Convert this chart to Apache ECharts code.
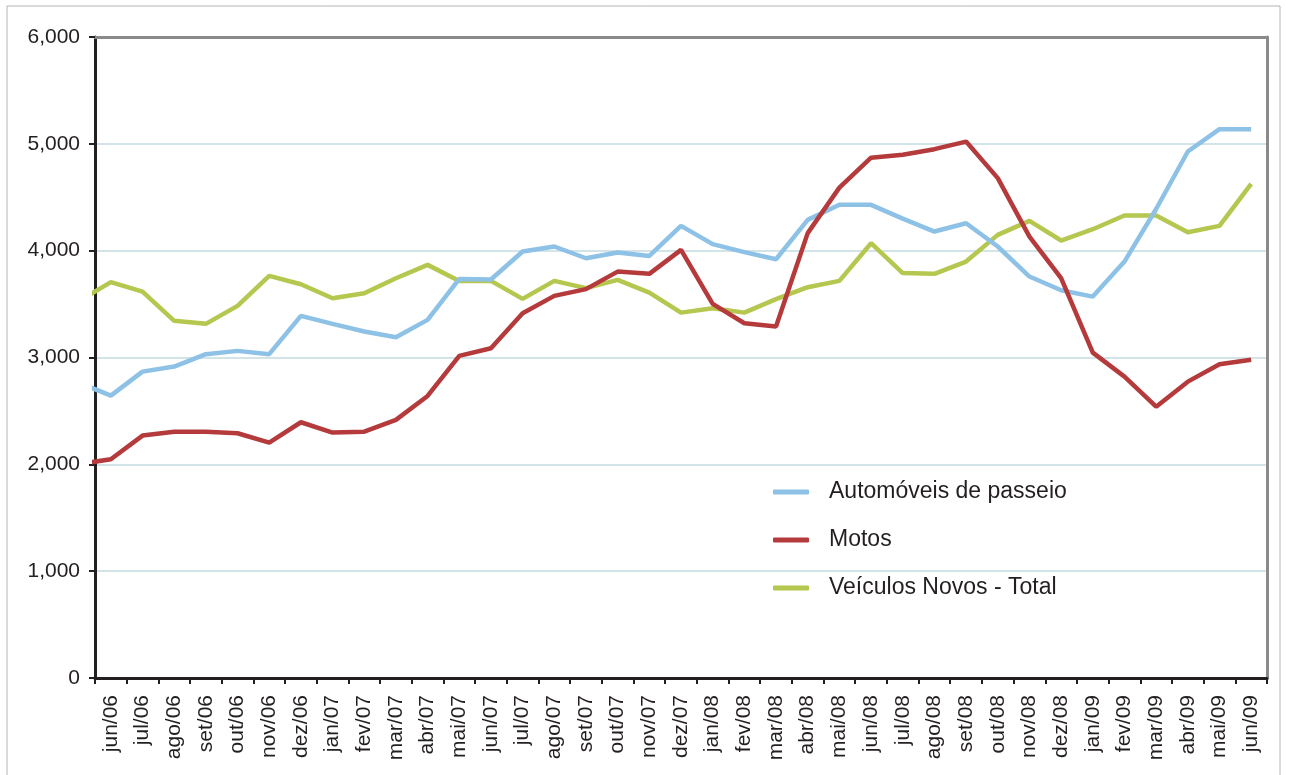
<!DOCTYPE html>
<html>
<head>
<meta charset="utf-8">
<script src="https://cdn.jsdelivr.net/npm/echarts@6/dist/echarts.min.js"></script>
<style>
    html, body { margin: 0; padding: 0; background: #fff; }
    #chart { width: 1291px; height: 775px; }
</style>
</head>
<body>
<div id="chart"></div>
<script>
// rótulos do eixo x (jun/06 .. jun/09)
var months = ['jun/06', 'jul/06', 'ago/06', 'set/06', 'out/06', 'nov/06', 'dez/06',
    'jan/07', 'fev/07', 'mar/07', 'abr/07', 'mai/07', 'jun/07', 'jul/07', 'ago/07', 'set/07',
    'out/07', 'nov/07', 'dez/07', 'jan/08', 'fev/08', 'mar/08', 'abr/08', 'mai/08', 'jun/08',
    'jul/08', 'ago/08', 'set/08', 'out/08', 'nov/08', 'dez/08', 'jan/09', 'fev/09', 'mar/09',
    'abr/09', 'mai/09', 'jun/09'];

// o primeiro valor (mai/06) fica antes do eixo e aparece cortado na borda
var automoveis = [2763, 2643, 2868, 2915, 3031, 3062, 3031, 3390, 3315, 3243, 3190, 3352, 3735,
    3730, 3992, 4039, 3929, 3982, 3951, 4232, 4061, 3986, 3920, 4288, 4429, 4429, 4300,
    4179, 4257, 4039, 3758, 3630, 3570, 3898, 4390, 4928, 5137, 5137];
var motos = [2002, 2048, 2269, 2306, 2306, 2291, 2203, 2394, 2297, 2306, 2416, 2640, 3015,
    3087, 3415, 3577, 3640, 3804, 3783, 4007, 3502, 3321, 3290, 4164, 4590, 4870, 4897,
    4950, 5021, 4679, 4132, 3742, 3046, 2821, 2540, 2774, 2937, 2978];
var veiculosTotal = [3529, 3705, 3617, 3343, 3315, 3483, 3764, 3686, 3555, 3602, 3742, 3867, 3717,
    3717, 3549, 3717, 3649, 3727, 3608, 3420, 3461, 3420, 3546, 3658, 3717, 4070, 3790,
    3783, 3898, 4148, 4279, 4095, 4201, 4329, 4329, 4173, 4232, 4625];

var yTicks = [0, 1000, 2000, 3000, 4000, 5000, 6000];

// posição no meio de cada mês (mai/06 = -0.5)
function toPoints(arr) {
    return arr.map(function (v, i) { return [i - 0.5, v]; });
}

var chart = echarts.init(document.getElementById('chart'));
var font = '"Liberation Sans", Arial, Helvetica, sans-serif';

var option = {
    animation: false,
    textStyle: { fontFamily: font },
    color: ['#8dc1e6', '#b43a3c', '#b5c74f'],
    graphic: [{
        type: 'rect',
        shape: { x: 7, y: 6, width: 1273, height: 800 },
        style: { fill: 'none', stroke: '#b4b4b4', lineWidth: 1 },
        silent: true
    }],
    grid: { left: 95, right: 24, top: 37, bottom: 97 },
    legend: {
        orient: 'vertical',
        left: 773,
        top: 480,
        padding: 0,
        icon: 'roundRect',
        itemWidth: 36,
        itemHeight: 5,
        itemGap: 24,
        textStyle: {
            fontFamily: font,
            fontSize: 23,
            color: '#231f20',
            lineHeight: 24,
            padding: [0, 0, 0, 15]
        },
        data: ['Automóveis de passeio', 'Motos', 'Veículos Novos - Total']
    },
    xAxis: [
        {
            type: 'category',
            data: months,
            boundaryGap: true,
            position: 'bottom',
            axisLine: { lineStyle: { color: '#231f20', width: 3 } },
            axisTick: { show: true, length: 6, lineStyle: { color: '#231f20', width: 2 } },
            axisLabel: {
                rotate: 90,
                interval: 0,
                margin: 17,
                fontFamily: font,
                fontSize: 21,
                color: '#231f20'
            },
            splitLine: { show: false }
        },
        {
            type: 'value',
            min: 0,
            max: months.length,
            position: 'top',
            axisLine: { show: true, onZero: false, lineStyle: { color: '#8a8a8a', width: 3 } },
            axisTick: { show: false },
            axisLabel: { show: false },
            splitLine: { show: false }
        }
    ],
    yAxis: [
        {
            type: 'value',
            min: yTicks[0],
            max: yTicks[yTicks.length - 1],
            interval: 1000,
            axisLine: { show: true, lineStyle: { color: '#231f20', width: 3 } },
            axisTick: { show: true, length: 6, lineStyle: { color: '#231f20', width: 2 } },
            axisLabel: {
                margin: 15,
                fontFamily: font,
                fontSize: 21,
                color: '#231f20',
                formatter: function (v) { return v.toLocaleString('en-US'); }
            },
            splitLine: { show: true, lineStyle: { color: '#d3e4e8', width: 2 } }
        },
        {
            type: 'value',
            min: 0,
            max: 6000,
            position: 'right',
            axisLine: { show: true, onZero: false, lineStyle: { color: '#8a8a8a', width: 3 } },
            axisTick: { show: false },
            axisLabel: { show: false },
            splitLine: { show: false }
        }
    ],
    series: [
        {
            name: 'Veículos Novos - Total',
            type: 'line',
            xAxisIndex: 1,
            yAxisIndex: 0,
            data: toPoints(veiculosTotal),
            showSymbol: false,
            clip: true,
            color: '#b5c74f',
            lineStyle: { width: 4.5, color: '#b5c74f' }
        },
        {
            name: 'Automóveis de passeio',
            type: 'line',
            xAxisIndex: 1,
            yAxisIndex: 0,
            data: toPoints(automoveis),
            showSymbol: false,
            clip: true,
            color: '#8dc1e6',
            lineStyle: { width: 4.5, color: '#8dc1e6' }
        },
        {
            name: 'Motos',
            type: 'line',
            xAxisIndex: 1,
            yAxisIndex: 0,
            data: toPoints(motos),
            showSymbol: false,
            clip: true,
            color: '#b43a3c',
            lineStyle: { width: 4.5, color: '#b43a3c' }
        }
    ]
};
chart.setOption(option);
</script>
</body>
</html>
